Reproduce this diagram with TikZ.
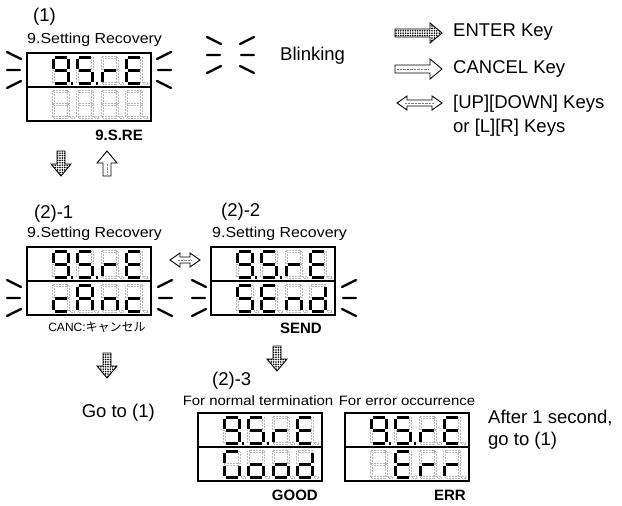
\documentclass[tikz,border=0pt]{standalone}
\usepackage{fontspec}
\usepackage{xstring}
\setmainfont{Liberation Sans}
\newfontfamily\widefont{Liberation Sans}[FakeStretch=1.1]
\newfontfamily\jpfont{Noto Sans CJK JP}
\usetikzlibrary{patterns.meta}

\begin{document}
\begin{tikzpicture}[x=1pt, y=-1pt,
    big/.style={font=\fontsize{18.5}{22}\selectfont, inner sep=0pt},
    head/.style={font=\widefont\fontsize{14.5}{16}\selectfont, inner sep=0pt, anchor=west},
    cond/.style={font=\widefont\fontsize{13.6}{15}\selectfont, inner sep=0pt},
    tag/.style={font=\bfseries\fontsize{15}{16}\selectfont, inner sep=0pt, anchor=east},
    lcdframe/.style={line width=1.6pt},
    segon/.style={line width=3pt, line cap=butt},
    segoff/.style={gray!55, line width=0.5pt, dash pattern=on 0.5pt off 1pt},
    blk/.style={line width=2.4pt, line cap=round},
    keyarr/.style={line width=0.9pt, line join=miter},
    pics/digit/.style={code={
      \foreach \sg/\ax/\ay/\bx/\by in {a/1.5/0/13.5/0, b/15/1.5/15/11.5, c/15/14.5/15/24.5,
          d/1.5/26/13.5/26, e/0/14.5/0/24.5, f/0/1.5/0/11.5, g/1.5/13/13.5/13, p/18/26/20/26}{
        \IfSubStr{#1}{\sg}{\draw[segon] (\ax,\ay) -- (\bx,\by);}
          {\draw[segoff] (\ax-1.1,\ay-1.1) rectangle (\bx+1.1,\by+1.1);}
      }
    }},
    pics/lcd/.style n args={2}{code={
      \draw[lcdframe] (0,0) rectangle (124,68) (0,34) -- (124,34);
      \foreach \dg [count=\i from 0] in {#1} \pic at (26+24.5*\i,4) {digit=\dg};
      \foreach \dg [count=\i from 0] in {#2} \pic at (26+24.5*\i,38) {digit=\dg};
    }},
    blink/.pic={
      \draw[blk] (0,-18) -- (14,-11) (0,0) -- (13,0) (0,18) -- (14,11);
    },
    pics/enterarr/.style={code={
      \draw[keyarr, pattern={Dots[distance=2.4pt, radius=0.9pt]}]
        (0,-4) -- (#1,-4) -- (#1,-10) -- (#1+12,0) -- (#1,10) -- (#1,4) -- (0,4) -- cycle;
    }},
    pics/cancelarr/.style={code={
      \draw[keyarr, fill=white]
        (0,-4) -- (#1,-4) -- (#1,-10) -- (#1+12,0) -- (#1,10) -- (#1,4) -- (0,4) -- cycle;
      \draw[gray, densely dotted] (2,0) -- (#1-1,0);
    }},
    pics/udarr/.style={code={
      \draw[keyarr, fill=white] (0,0) -- (10,-7) -- (10,-3) -- (10+#1,-3) -- (10+#1,-7)
        -- (20+#1,0) -- (10+#1,7) -- (10+#1,3) -- (10,3) -- (10,7) -- cycle;
      \draw[gray, densely dotted] (8,0) -- (12+#1,0);
    }}
  ]
  \useasboundingbox (0,0) rectangle (622,506);

  \coordinate (lcd1) at (27,53);
  \coordinate (lcd21) at (27,247);
  \coordinate (lcd22) at (211,247);
  \coordinate (lcd3a) at (198,413);
  \coordinate (lcd3b) at (345,413);

  \pic at (lcd1) {lcd={abcdfgp,acdfgp,eg,adefg}{x,x,x,x}};
  \pic at (lcd21) {lcd={abcdfgp,acdfgp,eg,adefg}{deg,abcefg,ceg,deg}};
  \pic at (lcd22) {lcd={abcdfgp,acdfgp,eg,adefg}{acdfg,adefg,ceg,bcdeg}};
  \pic at (lcd3a) {lcd={abcdfgp,acdfgp,eg,adefg}{acdef,cdeg,cdeg,bcdeg}};
  \pic at (lcd3b) {lcd={abcdfgp,acdfgp,eg,adefg}{x,adefg,eg,eg}};

  \pic at (7,70) {blink};
  \pic[xscale=-1] at (171,70) {blink};
  \pic at (7,298) {blink};
  \pic[xscale=-1] at (172,298) {blink};
  \pic at (192,298) {blink};
  \pic[xscale=-1] at (356,298) {blink};
  \pic at (207,55) {blink};
  \pic[xscale=-1] at (254,55) {blink};

  \pic at (395,33) {enterarr=35};
  \pic at (395,69) {cancelarr=35};
  \pic at (397,103) {udarr=25};
  \pic[rotate=-90] at (61,151) {enterarr=13};
  \pic[rotate=90] at (107,176) {cancelarr=13};
  \pic at (170,260) {udarr=10};
  \pic[rotate=-90] at (277,346) {enterarr=13};
  \pic[rotate=-90] at (107,353) {enterarr=13};

  \node[big, anchor=west] (n1) at (33,17) {(1)};
  \node[head] (t1) at (27,40) {9.Setting Recovery};
  \node[tag] (l1) at (143,135) {9.S.RE};
  \node[big, anchor=west] (blinking) at (280,56) {Blinking};
  \node[big, anchor=west] (kenter) at (453,32) {ENTER Key};
  \node[big, anchor=west] (kcancel) at (453,69) {CANCEL Key};
  \node[big, anchor=west, align=left] (kud) at (453,116) {[UP][DOWN] Keys\\[2pt]or [L][R] Keys};
  \node[big, anchor=west] (n21) at (34,214) {(2)-1};
  \node[head] (t21) at (27,234) {9.Setting Recovery};
  \node[big, anchor=west] (n22) at (221,212) {(2)-2};
  \node[head] (t22) at (212,234) {9.Setting Recovery};
  \node[font=\fontsize{12}{14}\selectfont, inner sep=0pt] (l21) at (97,327) {CANC:{\jpfont キャンセル}};
  \node[tag] (l22) at (322,328) {SEND};
  \node[big, anchor=east] (goto) at (155,413) {Go to (1)};
  \node[big, anchor=west] (n23) at (212,381) {(2)-3};
  \node[cond] (t3a) at (258,401) {For normal termination};
  \node[cond] (t3b) at (407,401) {For error occurrence};
  \node[tag] (l3a) at (318,495) {GOOD};
  \node[tag] (l3b) at (466,495) {ERR};
  \node[big, anchor=west, align=left] (after) at (488,430) {After 1 second,\\go to (1)};
\end{tikzpicture}
\end{document}
